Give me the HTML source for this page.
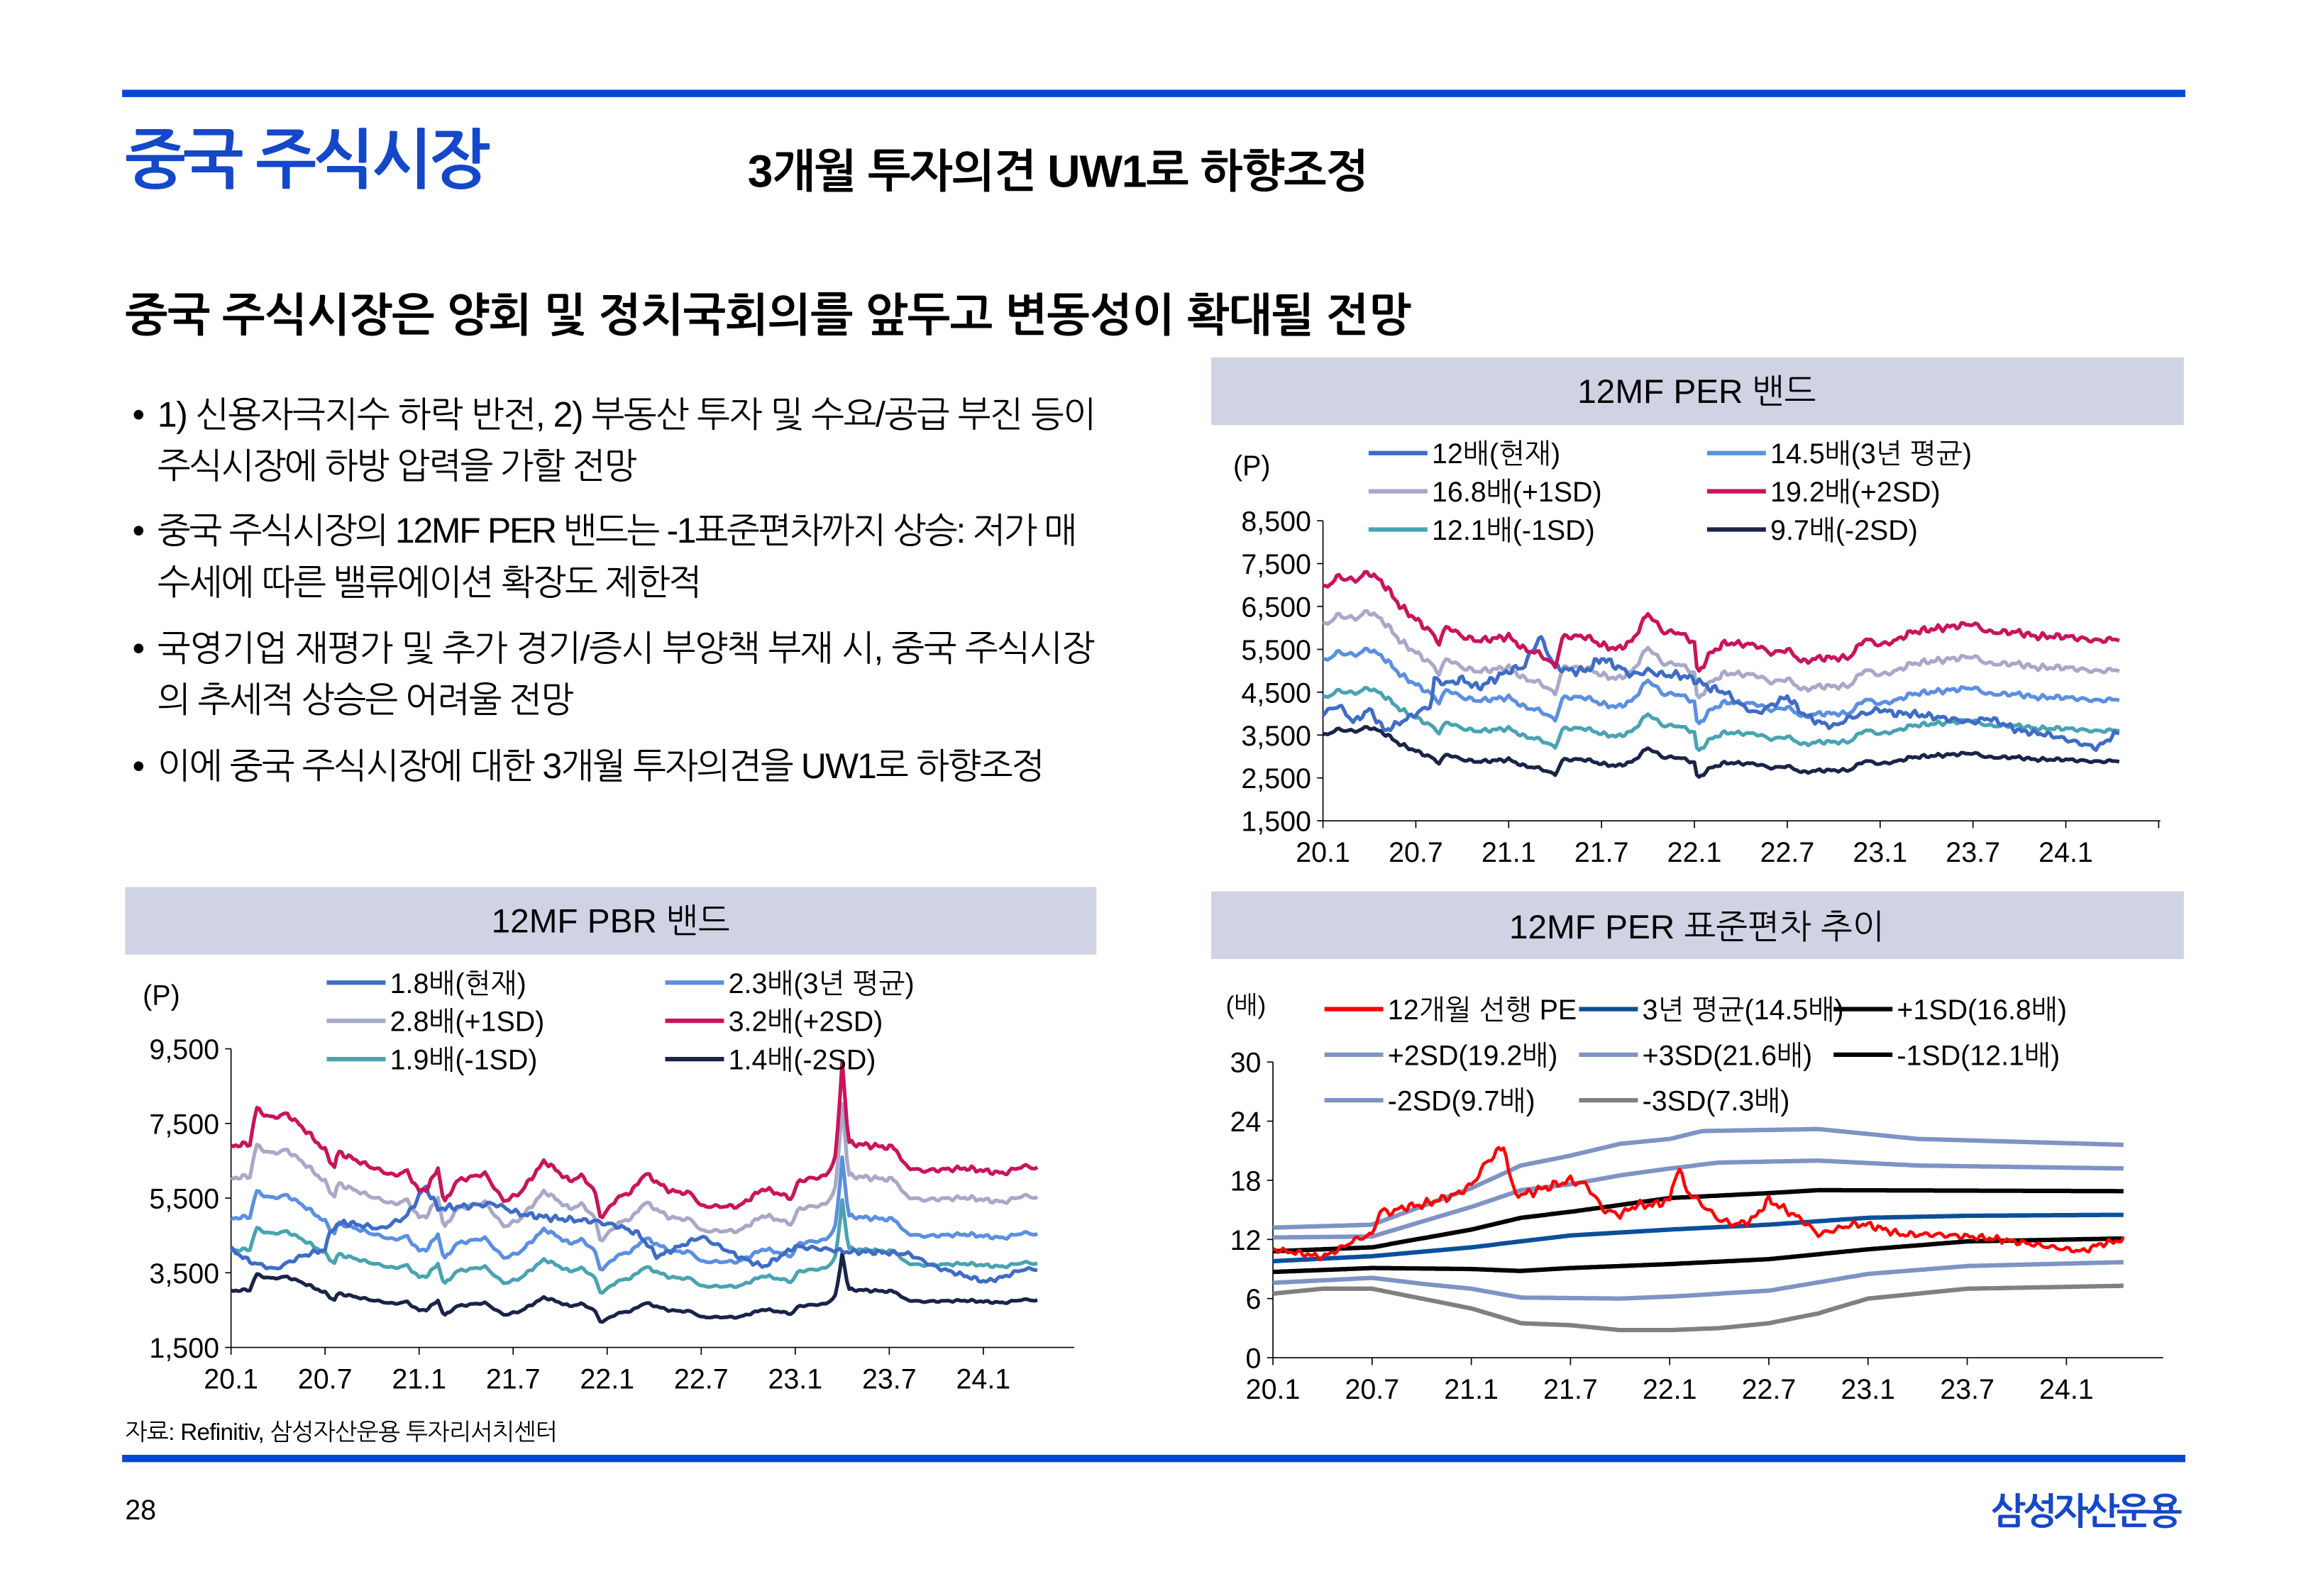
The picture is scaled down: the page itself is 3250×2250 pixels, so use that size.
<!DOCTYPE html>
<html><head><meta charset="utf-8">
<style>
html,body{margin:0;padding:0;background:#fff;}
svg{display:block;}
text{font-family:"Liberation Sans","NanumGothic","Noto Sans CJK KR",sans-serif;fill:#000;}
</style></head>
<body>
<svg id="s" width="3250" height="2250" viewBox="0 0 1567 1085" preserveAspectRatio="none" xmlns="http://www.w3.org/2000/svg">
<rect width="1600" height="1100" fill="#fff"/>
<rect x="83" y="61" width="1402" height="5" fill="#0047d8"/>
<text x="85" y="124" font-size="44" font-weight="bold" fill="#1448c8" style="fill:#1448c8" textLength="248">중국 주식시장</text>
<text x="508" y="127" font-size="31" font-weight="bold" textLength="422">3개월 투자의견 UW1로 하향조정</text>
<text x="85" y="225" font-size="31" font-weight="bold" textLength="874">중국 주식시장은 양회 및 정치국회의를 앞두고 변동성이 확대될 전망</text>
<g font-size="24">
<text x="90" y="290">•</text><text x="107" y="290" textLength="638">1) 신용자극지수 하락 반전, 2) 부동산 투자 및 수요/공급 부진 등이</text>
<text x="107" y="325" textLength="326">주식시장에 하방 압력을 가할 전망</text>
<text x="90" y="369">•</text><text x="107" y="369" textLength="625">중국 주식시장의 12MF PER 밴드는 -1표준편차까지 상승: 저가 매</text>
<text x="107" y="404" textLength="370">수세에 따른 밸류에이션 확장도 제한적</text>
<text x="90" y="449">•</text><text x="107" y="449" textLength="637">국영기업 재평가 및 추가 경기/증시 부양책 부재 시, 중국 주식시장</text>
<text x="107" y="484" textLength="283">의 추세적 상승은 어려울 전망</text>
<text x="90" y="529">•</text><text x="107" y="529" textLength="603">이에 중국 주식시장에 대한 3개월 투자의견을 UW1로 하향조정</text>
</g>

<rect x="823" y="243" width="661" height="46" fill="#d0d3e4"/>
<text x="1153" y="274" font-size="23" text-anchor="middle">12MF PER 밴드</text>
<text x="838" y="323" font-size="19">(P)</text>

<rect x="85" y="603" width="660" height="46" fill="#d0d3e4"/>
<text x="415" y="634" font-size="23" text-anchor="middle">12MF PBR 밴드</text>
<text x="97" y="683" font-size="19">(P)</text>

<rect x="823" y="606" width="661" height="46" fill="#d0d3e4"/>
<text x="1153" y="638" font-size="23" text-anchor="middle">12MF PER 표준편차 추이</text>
<text x="833" y="689" font-size="17">(배)</text>

<g id="charts"></g>

<text x="85" y="979" font-size="16" textLength="294">자료: Refinitiv, 삼성자산운용 투자리서치센터</text>
<rect x="83" y="989" width="1402" height="5" fill="#0047d8"/>
<text x="85" y="1033" font-size="19">28</text>
<text x="1483" y="1036" font-size="25" font-weight="bold" text-anchor="end" style="fill:#1448c8" textLength="130">삼성자산운용</text>
</svg>
<script>
var NS="http://www.w3.org/2000/svg",G=document.getElementById("charts");
function el(t,a,txt){var e=document.createElementNS(NS,t);for(var k in a)e.setAttribute(k,a[k]);if(txt!=null)e.textContent=txt;G.appendChild(e);return e;}
function interp(kp,t){for(var i=0;i<kp.length-1;i++){if(t<=kp[i+1][0]){var a=kp[i],b=kp[i+1],f=(t-a[0])/(b[0]-a[0]);return a[1]+(b[1]-a[1])*f;}}return kp[kp.length-1][1];}
function noise(t,s){return Math.sin(t*7.3+s)*0.6+Math.sin(t*13.1+s*2)*0.4+Math.sin(t*29.7+s*3)*0.3;}
function axes(c){
 el("line",{x1:c.x0,y1:c.yt,x2:c.x0,y2:c.yb,stroke:"#000","stroke-width":0.8});
 el("line",{x1:c.x0,y1:c.yb,x2:c.xe,y2:c.yb,stroke:"#000","stroke-width":0.8});
 c.yt_.forEach(function(v,i){var y=c.Y(v);el("line",{x1:c.x0-4,y1:y,x2:c.x0,y2:y,stroke:"#000","stroke-width":0.8});
  el("text",{x:c.x0-8,y:y+7,"font-size":19,"text-anchor":"end"},c.fmt(v));});
 var labs=["20.1","20.7","21.1","21.7","22.1","22.7","23.1","23.7","24.1"];
 for(var i=0;i<10;i++){var x=c.x0+i*c.dx;if(x>c.xe+1)break;el("line",{x1:x,y1:c.yb,x2:x,y2:c.yb+5,stroke:"#000","stroke-width":0.8});
  if(i<9)el("text",{x:x,y:c.yb+28,"font-size":19,"text-anchor":"middle"},labs[i]);}
}
function path(c,f,col,w){var d="";for(var t=0;t<=51.5;t+=0.15){var x=c.x0+t/6*c.dx,y=c.Y(f(t));d+=(d?"L":"M")+x.toFixed(1)+","+y.toFixed(1);}
 el("path",{d:d,fill:"none",stroke:col,"stroke-width":w,"stroke-linejoin":"round"});}
function legend(items){items.forEach(function(it){el("line",{x1:it[0],y1:it[1],x2:it[0]+40,y2:it[1],stroke:it[3],"stroke-width":3});
 el("text",{x:it[0]+43,y:it[1]+7,"font-size":19},it[2]);});}
var fmt=function(v){return v.toLocaleString("en-US");};
// PER
var c1={x0:899,xe:1468,yt:354,yb:558,dx:63.1,fmt:fmt,yt_:[8500,7500,6500,5500,4500,3500,2500,1500]};
c1.Y=function(v){return 558-(v-1500)/7000*204;};
axes(c1);
var k1=[[0,6900],[1,7200],[2,7100],[3,7300],[4,7000],[5,6500],[6,6200],[7,5900],[7.5,5650],[8,6050],[9,5800],[10,5700],[12,5800],[13,5500],[14,5400],[15,5100],[15.5,5800],[17,5800],[18,5600],[19,5500],[20,5700],[21,6350],[22,5900],[23,5900],[24,5650],[24.2,4900],[25,5400],[26,5650],[28,5600],[29,5400],[30,5500],[31,5200],[32,5300],[34,5300],[35,5750],[36,5600],[37,5700],[38,5900],[40,6000],[42,6100],[43,5900],[45,5900],[46,5800],[48,5800],[50,5700],[51.5,5750]];
var e1=function(t){return interp(k1,t)*(1+0.012*noise(t,1));};
var idx1=[[0,4000],[1,4200],[2,3800],[3,4100],[4,3600],[5,3800],[6,4000],[7,4200],[7.2,4800],[8,4700],[9,4800],[10,4600],[11,4800],[12,5000],[13,5100],[14,5800],[15,5100],[16,5000],[17,5000],[18,5300],[19,5100],[20,4900],[21,5000],[22,4900],[23,4900],[24,4800],[25,4600],[26,4500],[27,4200],[28,4000],[29,4200],[30,4400],[31,4000],[32,3800],[33,3700],[34,3900],[35,4000],[36,4100],[37,4000],[38,4000],[40,3900],[42,3800],[43,3900],[45,3600],[47,3500],[49,3300],[50,3200],[51.5,3600]];
path(c1,function(t){return e1(t)*0.505;},"#1a2448",2.5);
path(c1,function(t){return e1(t)*0.63;},"#4aa3b0",2.5);
path(c1,function(t){return e1(t)*0.875;},"#a8a8c8",2.5);
path(c1,function(t){return e1(t)*0.755;},"#5b8fe0",2.5);
path(c1,function(t){return interp(idx1,t)*(1+0.018*noise(t,5));},"#3f6cc4",2.5);
path(c1,function(t){return e1(t);},"#c8145a",2.5);
legend([[930,308,"12배(현재)","#3f6cc4"],[1160,308,"14.5배(3년 평균)","#5b8fe0"],[930,334,"16.8배(+1SD)","#a8a8c8"],[1160,334,"19.2배(+2SD)","#c8145a"],[930,360,"12.1배(-1SD)","#4aa3b0"],[1160,360,"9.7배(-2SD)","#1a2448"]]);
// PBR
var c2={x0:157,xe:730,yt:713,yb:916,dx:63.9,fmt:fmt,yt_:[9500,7500,5500,3500,1500]};
c2.Y=function(v){return 916-(v-1500)/8000*203;};
axes(c2);
var k2=[[0,6900],[1.2,6950],[1.6,7900],[2.5,7650],[3.6,7750],[4.8,7300],[6,6770],[6.6,6300],[6.8,6740],[8.8,6360],[10.4,6100],[11.2,6230],[12,5690],[12.5,5750],[13.2,6300],[13.6,5350],[14.4,5960],[16.2,6160],[17.4,5420],[18.4,5620],[20,6500],[21.6,5960],[22.4,6100],[23.2,5690],[23.6,4950],[24.6,5490],[25.6,5690],[26.4,6160],[28,5690],[29.4,5620],[30,5280],[32.4,5280],[34,5760],[35.8,5490],[36.2,5960],[38,6100],[38.6,6640],[39,9200],[39.4,6970],[42.4,6840],[43,6360],[44,6230],[46.9,6300],[49.3,6160],[50.5,6360],[51.5,6300]];
var e2=function(t){return interp(k2,t)*(1+0.01*noise(t,2));};
var idx2=[[0,4130],[1.2,3800],[2.8,3590],[4.4,3930],[6,4130],[6.4,4680],[7.2,4850],[9.6,4680],[11.2,5010],[12.4,5820],[13.2,5220],[16.8,5350],[18.4,5080],[20.8,4950],[23.2,4880],[24.8,4740],[26,4540],[27.2,3930],[30,4470],[32.4,3930],[34,3660],[36,4200],[38,4130],[39.3,4060],[40.9,4060],[43.3,4000],[44.9,3660],[46.5,3460],[48.1,3260],[49.3,3390],[50.5,3590],[51.5,3600]];
path(c2,function(t){return e2(t)*0.4375;},"#1a2448",2.5);
path(c2,function(t){return e2(t)*0.594;},"#4aa3b0",2.5);
path(c2,function(t){return e2(t)*0.875;},"#a8a8c8",2.5);
path(c2,function(t){return e2(t)*0.719;},"#5b8fe0",2.5);
path(c2,function(t){return interp(idx2,t)*(1+0.015*noise(t,7));},"#3f6cc4",2.5);
path(c2,function(t){return e2(t);},"#c8145a",2.5);
legend([[222,668,"1.8배(현재)","#3f6cc4"],[452,668,"2.3배(3년 평균)","#5b8fe0"],[222,694,"2.8배(+1SD)","#a8a8c8"],[452,694,"3.2배(+2SD)","#c8145a"],[222,720,"1.9배(-1SD)","#4aa3b0"],[452,720,"1.4배(-2SD)","#1a2448"]]);
// SD
var c3={x0:865,xe:1470,yt:722,yb:923,dx:67.4,fmt:function(v){return ""+v;},yt_:[30,24,18,12,6,0]};
c3.Y=function(v){return 923-v/30*201;};
axes(c3);
function band(k,col){path(c3,function(t){return interp(k,t);},col,3);}
band([[0,6.5],[3,7],[6,7],[9,6],[12,5],[14,4],[15,3.5],[18,3.3],[21,2.8],[24,2.8],[27,3],[30,3.5],[33,4.5],[36,6],[42,7],[51.5,7.3]],"#808080");
band([[0,7.6],[6,8.1],[9,7.5],[12,7],[15,6.1],[21,6],[24,6.2],[30,6.8],[36,8.5],[42,9.3],[51.5,9.7]],"#7f93c4");
band([[0,13.2],[6,13.5],[12,17.2],[15,19.5],[18,20.5],[21,21.7],[24,22.2],[26,23],[33,23.2],[39,22.2],[51.5,21.6]],"#7f93c4");
band([[0,12.2],[6,12.3],[12,15.3],[15,17],[18,17.6],[21,18.5],[24,19.2],[27,19.8],[33,20],[39,19.5],[51.5,19.2]],"#7f93c4");
band([[0,8.7],[6,9.1],[12,9],[15,8.8],[18,9.1],[24,9.5],[30,10],[36,11],[42,11.8],[51.5,12.1]],"#000");
band([[0,10.8],[6,11.2],[12,13],[15,14.2],[18,14.8],[21,15.5],[24,16.2],[30,16.7],[33,17],[51.5,16.9]],"#000");
band([[0,9.8],[6,10.3],[12,11.2],[15,11.8],[18,12.4],[24,13],[30,13.5],[36,14.2],[42,14.4],[51.5,14.5]],"#0a4f9a");
var pe=[[0,11],[2,10.5],[3,10.2],[4,11],[5,12],[6,12.5],[6.5,15],[7,14.7],[8,15.3],[9,15.5],[10,16],[11,16.5],[12,17.5],[13,20],[14,21.5],[14.5,17],[15,16.5],[16,17],[17,17.5],[18,18],[19,17.5],[20,15],[21,14.5],[22,15.5],[23,15.5],[24,16],[24.5,19.5],[25,17],[26,15.5],[27,14],[28,13.5],[29,14],[30,16],[31,15],[32,14],[33,12.5],[34,13],[35,13.5],[36,13.5],[37,13],[38,12.5],[40,12.5],[42,12.3],[44,12],[46,11.5],[48,11],[49,10.8],[50,11.5],[51.5,12]];
path(c3,function(t){return interp(pe,t)*(1+0.025*noise(t,9));},"#ff0000",2.2);
legend([[900,686,"12개월 선행 PE","#ff0000"],[1073,686,"3년 평균(14.5배)","#0a4f9a"],[1246,686,"+1SD(16.8배)","#000"],[900,717,"+2SD(19.2배)","#7f93c4"],[1073,717,"+3SD(21.6배)","#7f93c4"],[1246,717,"-1SD(12.1배)","#000"],[900,748,"-2SD(9.7배)","#7f93c4"],[1073,748,"-3SD(7.3배)","#808080"]]);
</script>
</body></html>
